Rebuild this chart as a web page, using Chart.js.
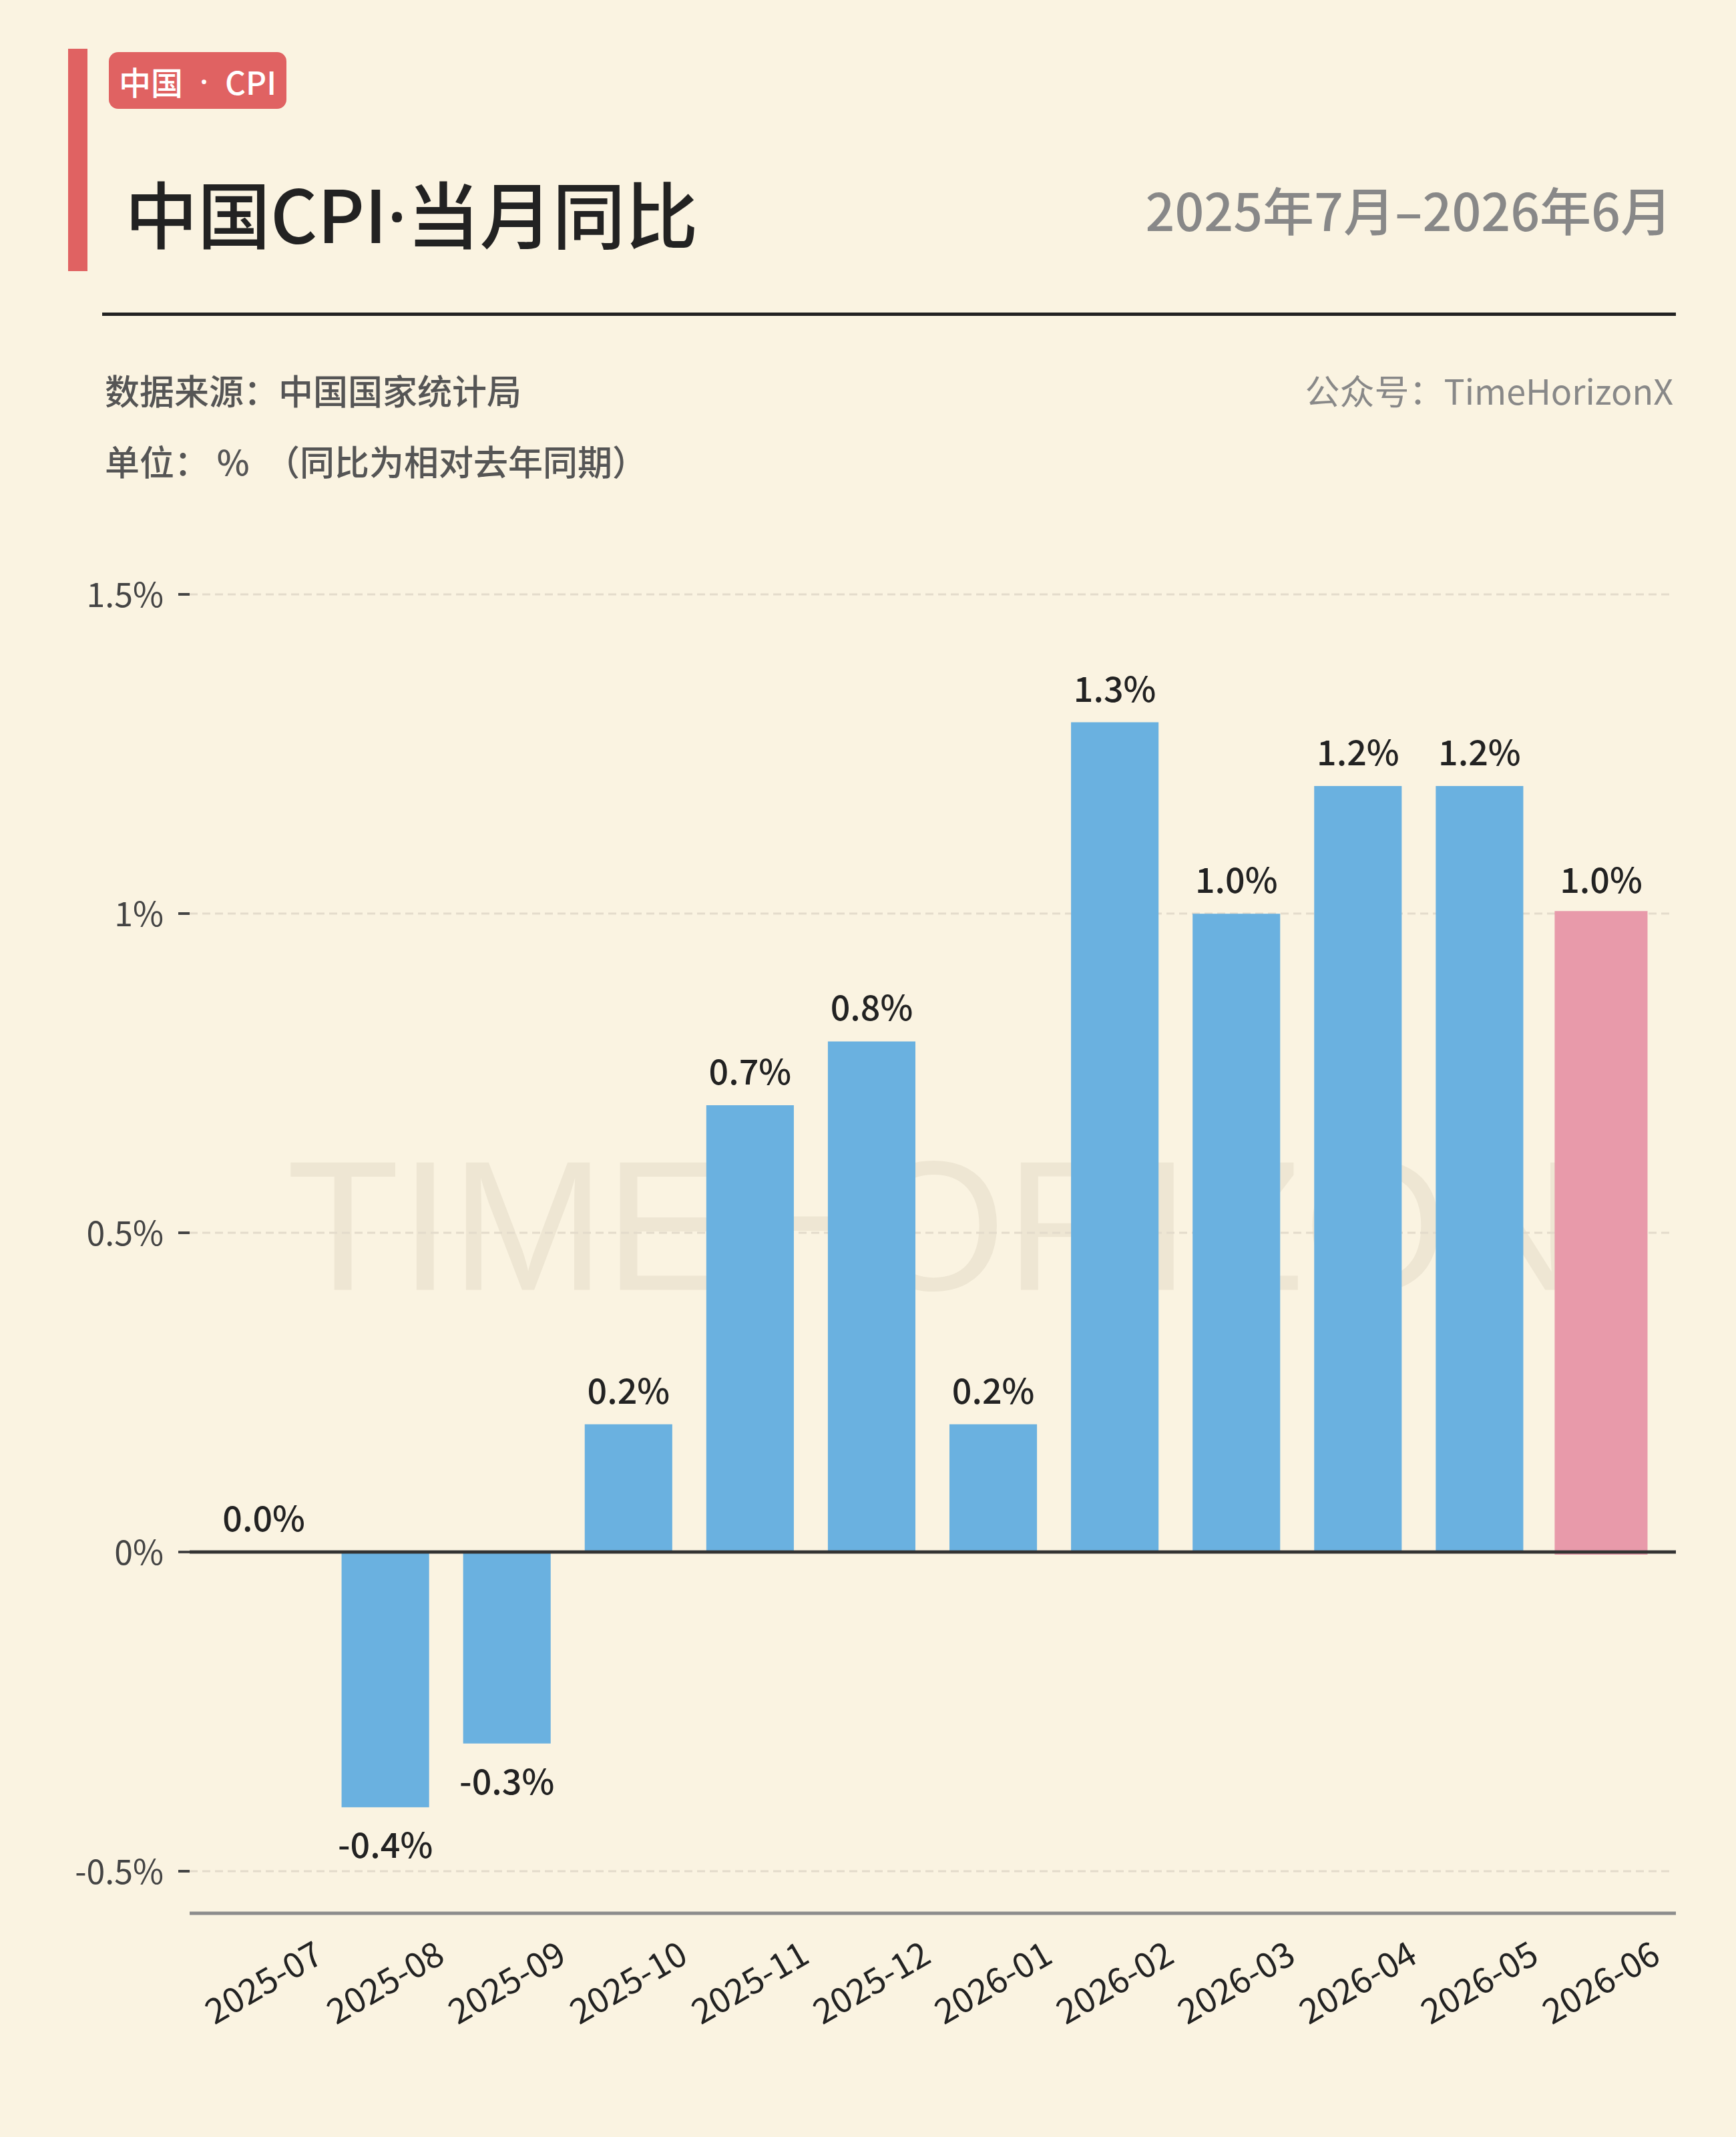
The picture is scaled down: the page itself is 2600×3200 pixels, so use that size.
<!DOCTYPE html>
<html>
<head>
<meta charset="utf-8">
<script src="https://cdn.jsdelivr.net/npm/chart.js@4.4.1/dist/chart.umd.min.js"></script>
<style>
html,body{margin:0;padding:0;background:#FAF3E1;}
#page{position:relative;width:2600px;height:3200px;background:#FAF3E1;overflow:hidden;font-family:"Noto Sans CJK SC","Noto Sans",sans-serif;text-spacing-trim:space-all;}
#chart{position:absolute;left:0;top:0;}
.abs{position:absolute;white-space:nowrap;line-height:1;}
.dot{font-family:"Noto Sans","DejaVu Sans",sans-serif;}
</style>
</head>
<body>
<div id="page">
  <canvas id="chart" width="2600" height="3200"></canvas>
  <div class="abs" style="left:102px;top:73px;width:29px;height:333px;background:#E06262;"></div>
  <div class="abs" style="left:163px;top:78px;width:266px;height:85px;border-radius:14px;background:#E06262;color:#fff;font-size:48px;font-weight:500;display:flex;align-items:center;justify-content:center;">中国<span class="dot">&nbsp;&nbsp;·&nbsp;&nbsp;</span>CPI</div>
  <div class="abs" style="left:187px;top:262px;font-size:109px;font-weight:500;color:#222;">中国CPI<span class="dot">·</span>当月同比</div>
  <div class="abs" style="right:96px;top:274px;font-size:77px;font-weight:500;color:#888;">2025年7月–2026年6月</div>
  <div class="abs" style="left:153px;top:468px;width:2357px;height:5px;background:#222;"></div>
  <div class="abs" style="left:157px;top:558px;font-size:52px;color:#555;font-weight:500;">数据来源：中国国家统计局</div>
  <div class="abs" style="left:157px;top:664px;font-size:52px;color:#555;font-weight:500;">单位：&nbsp;%&nbsp;&nbsp;（同比为相对去年同期）</div>
  <div class="abs" style="right:94px;top:558px;font-size:52px;color:#888;">公众号：TimeHorizonX</div>
</div>
<script>
const categories = ['2025-07','2025-08','2025-09','2025-10','2025-11','2025-12','2026-01','2026-02','2026-03','2026-04','2026-05','2026-06'];
const cpiYoY = [0.0, -0.4, -0.3, 0.2, 0.7, 0.8, 0.2, 1.3, 1.0, 1.2, 1.2, 1.0];
const yTickValues = [-0.5, 0, 0.5, 1, 1.5];
const yTickLabels = ['-0.5%', '0%', '0.5%', '1%', '1.5%'];

const FONT = '"Noto Sans CJK SC", "Noto Sans", sans-serif';
const BLUE = '#6AB1E0';
const PINK = '#E89AAA';
const lastIndex = categories.length - 1;

function hline(ctx, x1, x2, y) {
  ctx.beginPath(); ctx.moveTo(x1, y); ctx.lineTo(x2, y); ctx.stroke();
}

const decor = {
  id: 'decor',
  beforeDatasetsDraw(chart) {
    const {ctx, chartArea: a, scales: {y}} = chart;
    const L = a.left - 20, R = a.right + 21;
    ctx.save();
    // watermark
    ctx.fillStyle = '#EEE6D3';
    ctx.font = '277px "Liberation Sans", sans-serif';
    ctx.textAlign = 'center';
    ctx.textBaseline = 'middle';
    ctx.fillText('TIMEHORIZON', (a.left + a.right) / 2 + 2, (a.top + a.bottom) / 2 + 6);
    // dashed grid
    ctx.setLineDash([12, 7]);
    ctx.lineWidth = 3;
    ctx.strokeStyle = '#E3DBCB';
    yTickValues.forEach(v => {
      if (v === 0) return;
      const py = Math.round(y.getPixelForValue(v));
      hline(ctx, L, R - 4, py);
    });
    ctx.setLineDash([]);
    // tick marks
    ctx.strokeStyle = '#444';
    ctx.lineWidth = 4;
    yTickValues.forEach(v => {
      const py = Math.round(y.getPixelForValue(v));
      hline(ctx, L - 17, L, py);
    });
    // bottom axis
    ctx.strokeStyle = '#8C8C8C';
    ctx.lineWidth = 5;
    hline(ctx, L, R, a.bottom);
    ctx.restore();
  },
  afterDatasetsDraw(chart) {
    const {ctx, chartArea: a, scales: {y}} = chart;
    const L = a.left - 20, R = a.right + 21;
    ctx.save();
    ctx.strokeStyle = '#333';
    ctx.lineWidth = 5;
    hline(ctx, L, R, Math.round(y.getPixelForValue(0)));
    const meta = chart.getDatasetMeta(0);
    ctx.fillStyle = '#222';
    ctx.font = '500 52px ' + FONT;
    ctx.textAlign = 'center';
    ctx.textBaseline = 'alphabetic';
    meta.data.forEach((bar, i) => {
      const v = cpiYoY[i];
      const txt = v.toFixed(1) + '%';
      if (v >= 0) ctx.fillText(txt, bar.x, bar.y - 31);
      else ctx.fillText(txt, bar.x, bar.y + 76);
    });
    ctx.restore();
  }
};

new Chart(document.getElementById('chart'), {
  type: 'bar',
  data: {
    labels: categories,
    datasets: [{
      data: cpiYoY,
      backgroundColor: ctx => ctx.dataIndex === lastIndex ? PINK : BLUE,
      inflateAmount: ctx => ctx.dataIndex === lastIndex ? 4 : 0,
      borderWidth: 0,
      barPercentage: 0.72,
      categoryPercentage: 1.0
    }]
  },
  options: {
    responsive: false,
    devicePixelRatio: 1,
    animation: false,
    layout: {padding: {top: 833, left: 0, right: 111, bottom: 0}},
    plugins: {legend: {display: false}, tooltip: {enabled: false}},
    scales: {
      x: {
        grid: {display: false, drawTicks: false},
        border: {display: false},
        ticks: {
          autoSkip: false,
          minRotation: 30,
          maxRotation: 30,
          padding: 28,
          labelOffset: 82,
          color: '#222',
          font: {family: FONT, size: 52}
        },
        afterFit(scale) { scale.height = 335; }
      },
      y: {
        min: -0.566,
        max: 1.56,
        grid: {display: false, drawTicks: false},
        border: {display: false},
        afterBuildTicks(scale) { scale.ticks = yTickValues.map(v => ({value: v})); },
        ticks: {
          padding: 59,
          color: '#444',
          font: {family: FONT, size: 50},
          callback(value) {
            const i = yTickValues.indexOf(value);
            return i >= 0 ? yTickLabels[i] : '';
          }
        },
        afterFit(scale) { scale.width = 304; }
      }
    }
  },
  plugins: [decor]
});
</script>
</body>
</html>
